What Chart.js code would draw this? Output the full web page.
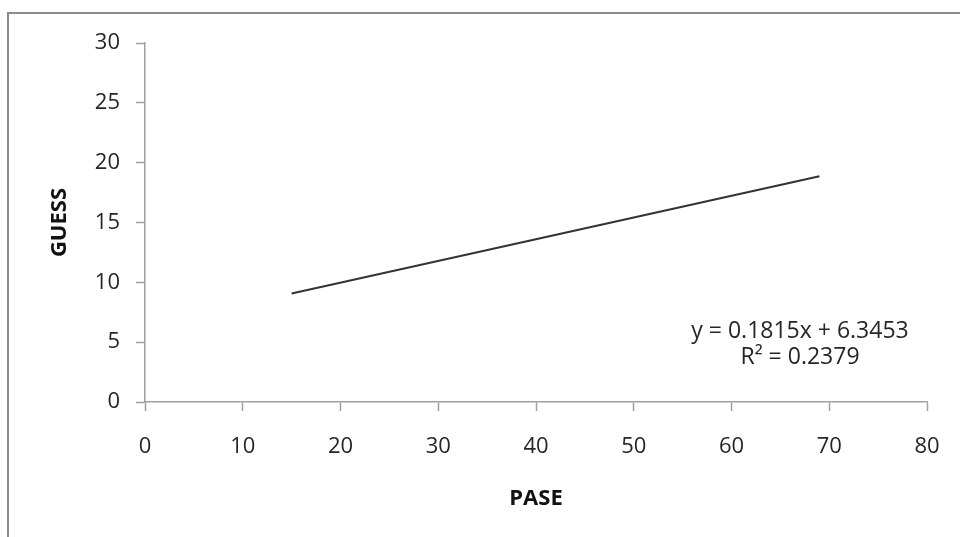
<!DOCTYPE html>
<html>
<head>
<meta charset="utf-8">
<script src="https://cdn.jsdelivr.net/npm/chart.js@4"></script>
<style>
  html, body { margin: 0; padding: 0; background: #fff; overflow: hidden; }
  canvas { display: block; }
</style>
</head>
<body>
<canvas id="chart" width="960" height="537"></canvas>
<script>
// trendline end points (PASE, GUESS)
const paseValues = [15, 69];
const guessValues = [9.07, 18.87];
const xTicks = [0, 10, 20, 30, 40, 50, 60, 70, 80];
const yTicks = [0, 5, 10, 15, 20, 25, 30];
const equationText = 'y = 0.1815x + 6.3453';
const rSquaredText = 'R² = 0.2379';

const axisColor = '#a0a0a0';
const textColor = '#262626';
const fontFamily = '"Open Sans", sans-serif';

// frame of the chart box, only the left and top edges fall inside the picture
const framePlugin = {
    id: 'frame',
    beforeDraw(chart) {
        const ctx = chart.ctx;
        ctx.save();
        ctx.strokeStyle = '#8c8c8c';
        ctx.lineWidth = 2;
        ctx.strokeRect(8, 13, 1000, 1000);
        ctx.restore();
    }
};

// trendline label, as Excel puts it
const equationPlugin = {
    id: 'equation',
    afterDraw(chart) {
        const ctx = chart.ctx;
        const area = chart.chartArea;
        const cx = area.right - 127;
        ctx.save();
        ctx.fillStyle = textColor;
        ctx.font = '23px ' + fontFamily;
        ctx.textAlign = 'center';
        ctx.textBaseline = 'middle';
        ctx.fillText(equationText, cx, area.bottom - 71);
        ctx.fillText(rSquaredText, cx, area.bottom - 45);
        ctx.restore();
    }
};

const ctx = document.getElementById('chart').getContext('2d');
new Chart(ctx, {
    type: 'scatter',
    data: {
        datasets: [{
            label: 'Linear (GUESS)',
            data: paseValues.map((x, i) => ({ x: x, y: guessValues[i] })),
            showLine: true,
            borderColor: '#333333',
            borderWidth: 2,
            pointRadius: 0,
            fill: false
        }]
    },
    options: {
        responsive: false,
        animation: false,
        layout: {
            padding: { left: 0, top: 43, right: 33, bottom: 0 }
        },
        plugins: {
            legend: { display: false },
            tooltip: { enabled: false }
        },
        scales: {
            x: {
                type: 'linear',
                min: xTicks[0],
                max: xTicks[xTicks.length - 1],
                afterBuildTicks: s => { s.ticks = xTicks.map(v => ({ value: v })); },
                afterFit: s => {
                    s.height = 135;
                    s.paddingLeft = 0;
                    s.paddingRight = 0;
                },
                border: { display: true, color: axisColor, width: 1.5 },
                grid: {
                    drawOnChartArea: false,
                    drawTicks: true,
                    tickLength: 9,
                    tickColor: axisColor,
                    tickWidth: 1.5
                },
                ticks: {
                    color: textColor,
                    padding: 23,
                    font: { family: fontFamily, size: 22 }
                },
                title: {
                    display: true,
                    text: 'PASE',
                    color: '#111',
                    padding: { top: 0, bottom: 25 },
                    font: { family: fontFamily, size: 22, weight: 'bold' }
                }
            },
            y: {
                type: 'linear',
                min: yTicks[0],
                max: yTicks[yTicks.length - 1],
                afterBuildTicks: s => { s.ticks = yTicks.map(v => ({ value: v })); },
                afterFit: s => {
                    s.width = 145;
                    s.paddingTop = 0;
                    s.paddingBottom = 0;
                },
                border: { display: true, color: axisColor, width: 1.5 },
                grid: {
                    drawOnChartArea: false,
                    drawTicks: true,
                    tickLength: 9,
                    tickColor: axisColor,
                    tickWidth: 1.5
                },
                ticks: {
                    color: textColor,
                    padding: 16,
                    font: { family: fontFamily, size: 22 }
                },
                title: {
                    display: true,
                    text: 'GUESS',
                    color: '#111',
                    padding: { top: 47, bottom: 0 },
                    font: { family: fontFamily, size: 22, weight: 'bold' }
                }
            }
        }
    },
    plugins: [framePlugin, equationPlugin]
});
</script>
</body>
</html>
